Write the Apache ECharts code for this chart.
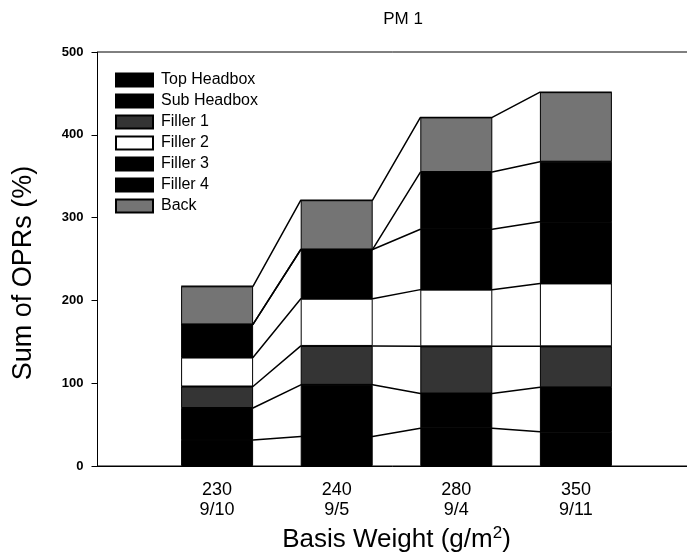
<!DOCTYPE html>
<html>
<head>
<meta charset="utf-8">
<script src="https://cdn.jsdelivr.net/npm/echarts@6/dist/echarts.min.js"></script>
<style>
    html, body { margin: 0; padding: 0; background: #fff; }
    #chart { width: 687px; height: 556px; }
</style>
</head>
<body>
<div id="chart"></div>
<script>
var weights = ['230', '240', '280', '350'];
var runDates = ['9/10', '9/5', '9/4', '9/11'];

// OPR share of each layer (%), stacked bottom to top
var topHeadbox = [31.5, 35.5, 45.5, 41.5];
var subHeadbox = [38.5, 62.5, 42, 53.5];
var filler1 = [26, 47, 57, 49.5];
var filler2 = [35, 57, 68.5, 76];
var filler3 = [40, 59.5, 73, 74.5];
var filler4 = [0, 0, 69, 72.5];
var back = [46, 59.5, 66, 84];

var yTicks = [0, 100, 200, 300, 400, 500];

var layers = [
    { name: 'Top Headbox', values: topHeadbox, color: '#000000' },
    { name: 'Sub Headbox', values: subHeadbox, color: '#000000' },
    { name: 'Filler 1', values: filler1, color: '#343434' },
    { name: 'Filler 2', values: filler2, color: '#ffffff' },
    { name: 'Filler 3', values: filler3, color: '#000000' },
    { name: 'Filler 4', values: filler4, color: '#000000' },
    { name: 'Back', values: back, color: '#747474' }
];

// empty slot at both ends so the bars sit one slot in from the left axis
var slots = [''].concat(weights.map(function (w, i) { return w + '\n' + runDates[i]; })).concat(['']);

var barHalf = 0.3;
var fontName = '"Liberation Sans", Arial, sans-serif';

var series = [];
var running = weights.map(function () { return 0; });

layers.forEach(function (layer) {
    series.push({
        name: layer.name,
        type: 'bar',
        stack: 'opr',
        xAxisIndex: 0,
        barWidth: 72,
        z: 3,
        itemStyle: { color: layer.color, borderColor: '#000', borderWidth: 1 },
        data: [null].concat(layer.values).concat([null])
    });

    // connecting line along the top of this layer
    var points = [];
    layer.values.forEach(function (v, i) {
        running[i] += v;
        points.push([i + 1 - barHalf, running[i]]);
        points.push([i + 1 + barHalf, running[i]]);
    });
    series.push({
        name: 'link ' + layer.name,
        type: 'line',
        xAxisIndex: 1,
        z: 1,
        silent: true,
        symbol: 'none',
        lineStyle: { color: '#000', width: 1.5 },
        data: points
    });
});

var chart = echarts.init(document.getElementById('chart'), null, { renderer: 'canvas' });

chart.setOption({
    animation: false,
    title: {
        text: 'PM 1',
        left: 398,
        top: 6,
        textAlign: 'center',
        textStyle: { fontFamily: fontName, fontSize: 17, fontWeight: 'normal', color: '#000' }
    },
    legend: {
        data: layers.map(function (l) { return l.name; }),
        orient: 'vertical',
        left: 115,
        top: 72,
        padding: 0,
        icon: 'rect',
        itemWidth: 37,
        itemHeight: 13,
        itemGap: 5,
        selectedMode: false,
        textStyle: { fontFamily: fontName, fontSize: 16, lineHeight: 16, color: '#000', padding: [0, 0, 0, 3] }
    },
    grid: {
        left: 97.5,
        width: 598,
        top: 52,
        bottom: 90,
        outerBoundsMode: 'none',
        show: true,
        borderColor: '#000',
        borderWidth: 1
    },
    xAxis: [{
        type: 'category',
        data: slots,
        boundaryGap: false,
        splitLine: { show: false },
        axisTick: { show: false },
        axisLine: { lineStyle: { color: '#000', width: 1 } },
        axisLabel: {
            interval: 0,
            margin: 14,
            fontFamily: fontName,
            fontSize: 18,
            lineHeight: 20,
            color: '#000'
        },
        name: 'Basis Weight (g/m{sup|2})',
        nameLocation: 'middle',
        nameGap: 54,
        nameTextStyle: {
            fontFamily: fontName,
            fontSize: 26,
            color: '#000',
            rich: {
                sup: { fontFamily: fontName, fontSize: 17, verticalAlign: 'top', padding: [0, 0, 12, 0], color: '#000' }
            }
        }
    }, {
        type: 'value',
        min: 0,
        max: slots.length - 1,
        show: false
    }],
    yAxis: {
        type: 'value',
        min: yTicks[0],
        max: yTicks[yTicks.length - 1],
        interval: 100,
        splitLine: { show: false },
        axisLine: { show: true, lineStyle: { color: '#000', width: 1 } },
        axisTick: { show: true, inside: false, length: 6, lineStyle: { color: '#000' } },
        axisLabel: { margin: 14, fontFamily: fontName, fontSize: 13, fontWeight: 'bold', color: '#000' },
        name: 'Sum of OPRs (%)',
        nameLocation: 'middle',
        nameGap: 60,
        nameTextStyle: { fontFamily: fontName, fontSize: 27, color: '#000', padding: [0, 28, 0, 0] }
    },
    series: series
});
</script>
</body>
</html>
